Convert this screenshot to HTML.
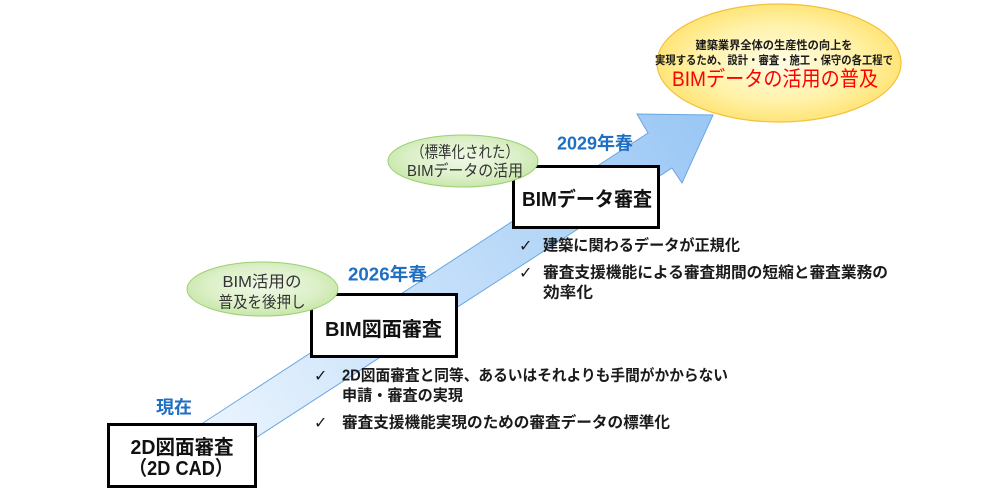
<!DOCTYPE html>
<html>
<head>
<meta charset="utf-8">
<style>
  html,body{margin:0;padding:0;background:#fff;}
  body{width:1000px;height:500px;overflow:hidden;}
  svg{display:block;}
  .jp{font-family:"Liberation Sans","Noto Sans CJK JP",sans-serif;}
</style>
</head>
<body>
<svg width="1000" height="500" viewBox="0 0 1000 500" xmlns="http://www.w3.org/2000/svg" class="jp">
  <defs>
    <linearGradient id="arr" gradientUnits="userSpaceOnUse" x1="200" y1="470" x2="700" y2="130">
      <stop offset="0" stop-color="#eef6fe"/>
      <stop offset="0.45" stop-color="#c8e1fa"/>
      <stop offset="1" stop-color="#9cc8f5"/>
    </linearGradient>
    <radialGradient id="grn" cx="0.5" cy="0.45" r="0.6">
      <stop offset="0" stop-color="#eff8e6"/>
      <stop offset="0.6" stop-color="#dcf0c8"/>
      <stop offset="1" stop-color="#c3e5a2"/>
    </radialGradient>
    <radialGradient id="yel" cx="0.5" cy="0.5" r="0.55">
      <stop offset="0" stop-color="#fffce6"/>
      <stop offset="0.6" stop-color="#fff2a8"/>
      <stop offset="1" stop-color="#ffe06a"/>
    </radialGradient>
  </defs>

  <!-- big arrow -->
  <polygon points="150,457.5 648,133 637,114 713,115 682,183 672,168 200,474"
           fill="url(#arr)" stroke="#6aa6e0" stroke-width="1"/>

  <!-- yellow goal ellipse -->
  <ellipse cx="779" cy="63" rx="122" ry="59" fill="url(#yel)" stroke="#f2c23e" stroke-width="1.2"/>
  <text x="774" y="49" font-size="11.5" font-weight="bold" fill="#1a1a1a" text-anchor="middle" textLength="157" lengthAdjust="spacingAndGlyphs">建築業界全体の生産性の向上を</text>
  <text x="774" y="64" font-size="11.5" font-weight="bold" fill="#1a1a1a" text-anchor="middle" textLength="238" lengthAdjust="spacingAndGlyphs">実現するため、設計・審査・施工・保守の各工程で</text>
  <text x="775" y="86" font-size="21" fill="#ff0000" text-anchor="middle" textLength="206" lengthAdjust="spacingAndGlyphs">BIMデータの活用の普及</text>

  <!-- year labels -->
  <text x="174" y="413.5" font-size="18" font-weight="bold" fill="#1f6fc3" text-anchor="middle">現在</text>
  <text x="348" y="280.5" font-size="18" font-weight="bold" fill="#1f6fc3" textLength="79" lengthAdjust="spacingAndGlyphs">2026年春</text>
  <text x="557" y="149.5" font-size="18" font-weight="bold" fill="#1f6fc3" textLength="76" lengthAdjust="spacingAndGlyphs">2029年春</text>

  <!-- boxes -->
  <rect x="108.5" y="424.5" width="147" height="62" fill="#fff" stroke="#000" stroke-width="3"/>
  <text x="182" y="454" font-size="20" font-weight="bold" fill="#111" text-anchor="middle" textLength="103" lengthAdjust="spacingAndGlyphs">2D図面審査</text>
  <text x="181" y="475" font-size="20" font-weight="bold" fill="#111" text-anchor="middle" textLength="104" lengthAdjust="spacingAndGlyphs">（2D CAD）</text>

  <rect x="311.5" y="294.5" width="145" height="62" fill="#fff" stroke="#000" stroke-width="3"/>
  <text x="383.5" y="336" font-size="20" font-weight="bold" fill="#111" text-anchor="middle" textLength="117" lengthAdjust="spacingAndGlyphs">BIM図面審査</text>

  <rect x="513.5" y="166.5" width="145" height="61" fill="#fff" stroke="#000" stroke-width="3"/>
  <text x="587" y="206" font-size="20" font-weight="bold" fill="#111" text-anchor="middle" textLength="130" lengthAdjust="spacingAndGlyphs">BIMデータ審査</text>

  <!-- green ellipses (on top of boxes) -->
  <ellipse cx="262.5" cy="289" rx="75.5" ry="27" fill="url(#grn)" stroke="#9ccf74" stroke-width="1"/>
  <text x="262" y="287" font-size="16" fill="#333" text-anchor="middle" textLength="79" lengthAdjust="spacingAndGlyphs">BIM活用の</text>
  <text x="262" y="307.5" font-size="16" fill="#333" text-anchor="middle" textLength="87" lengthAdjust="spacingAndGlyphs">普及を後押し</text>

  <ellipse cx="463" cy="161" rx="75" ry="26" fill="url(#grn)" stroke="#9ccf74" stroke-width="1"/>
  <text x="465" y="157.5" font-size="16" fill="#333" text-anchor="middle" textLength="108" lengthAdjust="spacingAndGlyphs">（標準化された）</text>
  <text x="465" y="176" font-size="16" fill="#333" text-anchor="middle" textLength="116" lengthAdjust="spacingAndGlyphs">BIMデータの活用</text>

  <!-- list for BIM図面審査 -->
  <g fill="#1a1a1a">
    <text x="314" y="381" font-size="16" font-family="DejaVu Sans, sans-serif">✓</text>
    <text x="342" y="380.5" font-size="15.5" font-weight="bold" textLength="386" lengthAdjust="spacingAndGlyphs">2D図面審査と同等、あるいはそれよりも手間がかからない</text>
    <text x="342" y="400.5" font-size="15.5" font-weight="bold" textLength="121" lengthAdjust="spacingAndGlyphs">申請・審査の実現</text>
    <text x="314" y="428" font-size="16" font-family="DejaVu Sans, sans-serif">✓</text>
    <text x="342" y="427.5" font-size="15.5" font-weight="bold" textLength="328" lengthAdjust="spacingAndGlyphs">審査支援機能実現のための審査データの標準化</text>
  </g>

  <!-- list for BIMデータ審査 -->
  <g fill="#1a1a1a">
    <text x="519" y="251" font-size="16" font-family="DejaVu Sans, sans-serif">✓</text>
    <text x="543" y="250.5" font-size="15.5" font-weight="bold" textLength="197" lengthAdjust="spacingAndGlyphs">建築に関わるデータが正規化</text>
    <text x="519" y="278" font-size="16" font-family="DejaVu Sans, sans-serif">✓</text>
    <text x="543" y="277.5" font-size="15.5" font-weight="bold" textLength="345" lengthAdjust="spacingAndGlyphs">審査支援機能による審査期間の短縮と審査業務の</text>
    <text x="543" y="297.5" font-size="15.5" font-weight="bold" textLength="50" lengthAdjust="spacingAndGlyphs">効率化</text>
  </g>
</svg>
</body>
</html>
